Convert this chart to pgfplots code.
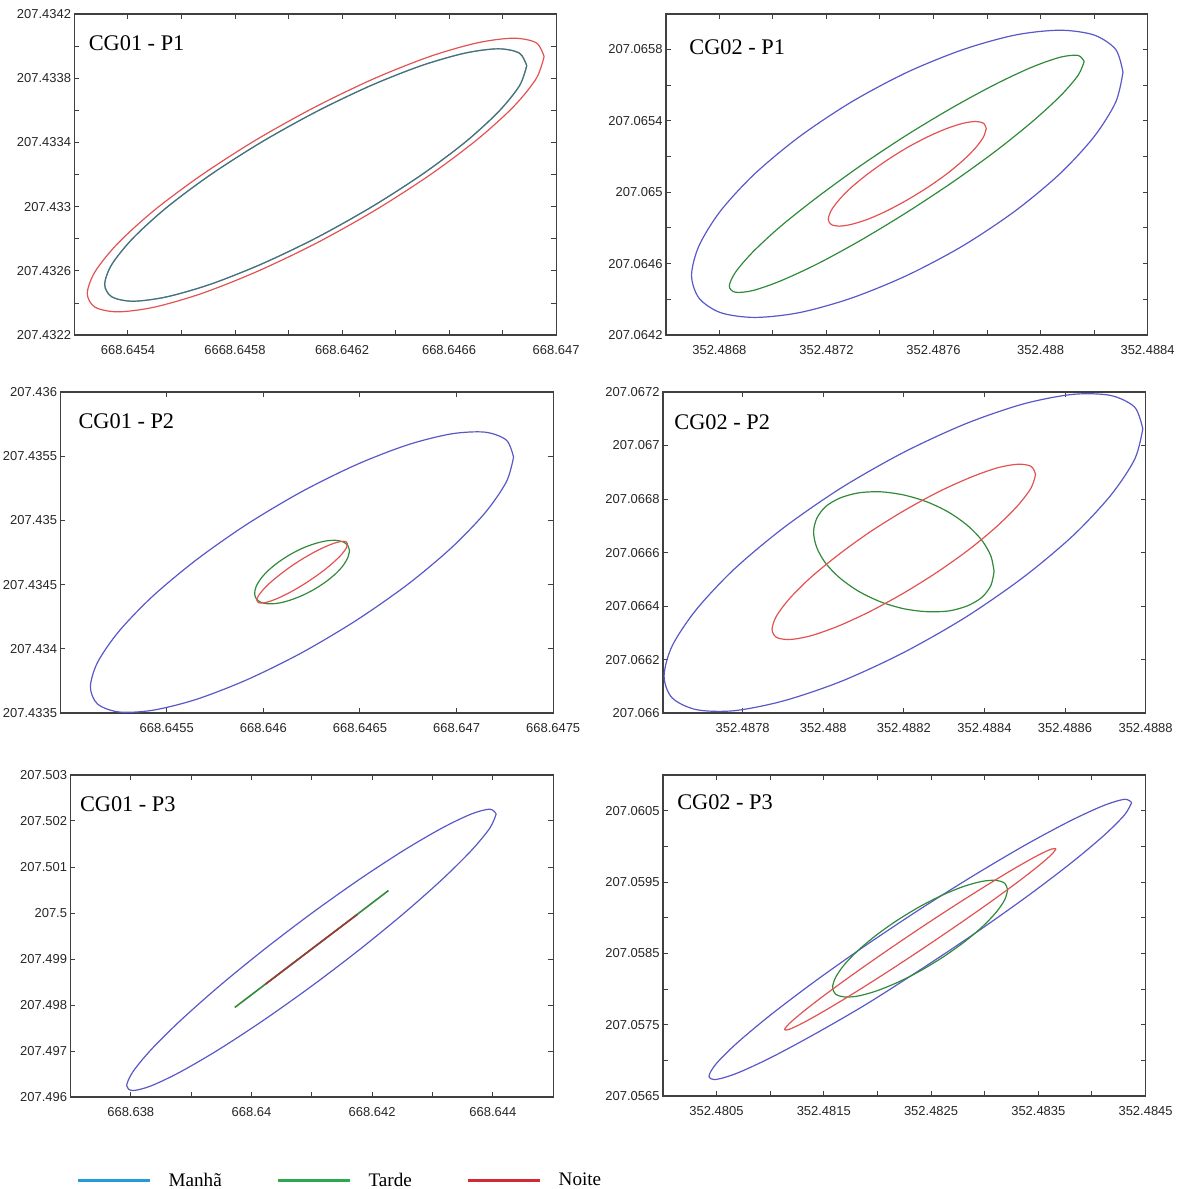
\documentclass[border=0pt]{standalone}
\usepackage{fontspec}
\setmainfont{Liberation Serif}
\newfontfamily\ticksf{Liberation Sans}
\usepackage{pgfplots}
\pgfplotsset{compat=1.18}

\definecolor{manha}{RGB}{88,88,200}
\definecolor{tarde}{RGB}{48,138,58}
\definecolor{noite}{RGB}{226,82,82}
\definecolor{manhaL}{RGB}{35,155,215}
\definecolor{tardeL}{RGB}{45,168,80}
\definecolor{noiteL}{RGB}{212,40,52}

% local axis units: offsets from the base value, in units of 1e-4 (1e-3 for CG01-P3)
\pgfplotsset{
  panel/.style={
    scale only axis, anchor=north west,
    tick pos=both, tick align=inside,
    major tick length=2.5pt, minor tick length=2.5pt,
    axis line style={black!75, line width=0.65pt},
    every tick/.style={black!75, line width=0.5pt},
    ticklabel style={font=\ticksf\fontsize{6.5}{7.5}\selectfont, text=black!85},
    xticklabel style={inner sep=1pt, yshift=-4pt},
    yticklabel style={inner sep=1.5pt},
    scaled ticks=false,
    every axis plot/.append style={line width=0.6pt, smooth, forget plot},
  },
}
\tikzset{ttl/.style={anchor=west, inner sep=0pt, font=\fontsize{11.2}{13}\selectfont}}

\begin{document}
\begin{tikzpicture}
\path (0,0) rectangle (592pt,-594.5pt);

% CG01 - P1
\begin{axis}[panel, at={(36pt,-7pt)}, width=241.5pt, height=161pt,
  xmin=2, xmax=20, ymin=2, ymax=22,
  xtick={4,8,12,16,20}, xticklabels={668.6454,6668.6458,668.6462,668.6466,668.647},
  minor xtick={6,10,14,18},
  ytick={2,6,10,14,18,22}, yticklabels={207.4322,207.4326,207.433,207.4334,207.4338,207.4342},
  minor ytick={4,8,12,16,20}]
\addplot[noite] coordinates {(19.55,19.35) (19.26,20.20) (18.41,20.49) (17.05,20.20) (15.28,19.35) (13.22,17.99) (11.02,16.23) (8.81,14.18) (6.75,11.97) (4.98,9.77) (3.62,7.71) (2.77,5.95) (2.48,4.59) (2.77,3.74) (3.62,3.45) (4.98,3.74) (6.75,4.59) (8.81,5.95) (11.02,7.71) (13.22,9.76) (15.28,11.97) (17.05,14.18) (18.41,16.23) (19.26,17.99) (19.55,19.35)};
\addplot[manha] coordinates {(18.90,18.78) (18.63,19.56) (17.84,19.83) (16.59,19.56) (14.96,18.78) (13.06,17.53) (11.02,15.90) (8.97,14.00) (7.07,11.97) (5.44,9.94) (4.19,8.04) (3.40,6.41) (3.13,5.16) (3.40,4.38) (4.19,4.11) (5.44,4.38) (7.07,5.16) (8.97,6.41) (11.02,8.04) (13.06,9.94) (14.96,11.97) (16.59,14.00) (17.84,15.90) (18.63,17.53) (18.90,18.78)};
\addplot[tarde, opacity=0.6] coordinates {(18.90,18.78) (18.63,19.56) (17.84,19.83) (16.59,19.56) (14.96,18.78) (13.06,17.53) (11.02,15.90) (8.97,14.00) (7.07,11.97) (5.44,9.94) (4.19,8.04) (3.40,6.41) (3.13,5.16) (3.40,4.38) (4.19,4.11) (5.44,4.38) (7.07,5.16) (8.97,6.41) (11.02,8.04) (13.06,9.94) (14.96,11.97) (16.59,14.00) (17.84,15.90) (18.63,17.53) (18.90,18.78)};
\node[ttl] at (rel axis cs:0.029,0.910) {CG01 - P1};
\end{axis}

% CG02 - P1
\begin{axis}[panel, at={(332.5pt,-7pt)}, width=241.5pt, height=161pt,
  xmin=6, xmax=24, ymin=2, ymax=19.98,
  xtick={8,12,16,20,24}, xticklabels={352.4868,352.4872,352.4876,352.488,352.4884},
  minor xtick={10,14,18,22},
  ytick={2,6,10,14,18}, yticklabels={207.0642,207.0646,207.065,207.0654,207.0658},
  minor ytick={4,8,12,16}]
\addplot[manha] coordinates {(23.08,16.72) (22.81,17.99) (22.00,18.80) (20.72,19.07) (19.05,18.80) (17.11,17.99) (15.02,16.72) (12.93,15.05) (10.99,13.11) (9.32,11.03) (8.04,8.95) (7.24,7.01) (6.96,5.35) (7.24,4.07) (8.04,3.26) (9.32,2.99) (10.99,3.26) (12.93,4.07) (15.02,5.35) (17.11,7.01) (19.05,8.95) (20.72,11.03) (22.00,13.11) (22.81,15.05) (23.08,16.72)};
\addplot[tarde] coordinates {(21.63,17.32) (21.40,17.66) (20.74,17.56) (19.69,17.01) (18.32,16.05) (16.72,14.75) (15.00,13.20) (13.28,11.49) (11.69,9.76) (10.31,8.12) (9.26,6.67) (8.60,5.52) (8.37,4.74) (8.60,4.40) (9.26,4.50) (10.31,5.05) (11.69,6.01) (13.28,7.31) (15.00,8.87) (16.72,10.57) (18.32,12.30) (19.69,13.95) (20.74,15.39) (21.40,16.54) (21.63,17.32)};
\addplot[noite] coordinates {(17.97,13.57) (17.87,13.86) (17.58,13.96) (17.11,13.86) (16.50,13.57) (15.78,13.10) (15.02,12.50) (14.26,11.79) (13.55,11.03) (12.93,10.27) (12.47,9.57) (12.17,8.96) (12.07,8.49) (12.17,8.20) (12.47,8.10) (12.93,8.20) (13.55,8.49) (14.26,8.96) (15.02,9.57) (15.78,10.27) (16.50,11.03) (17.11,11.79) (17.58,12.50) (17.87,13.10) (17.97,13.57)};
\node[ttl] at (rel axis cs:0.048,0.898) {CG02 - P1};
\end{axis}

% CG01 - P2
\begin{axis}[panel, at={(29pt,-196.5pt)}, width=247pt, height=161pt,
  xmin=-0.5, xmax=25, ymin=5, ymax=30,
  xtick={5,10,15,20,25}, xticklabels={668.6455,668.646,668.6465,668.647,668.6475},
  ytick={5,10,15,20,25,30}, yticklabels={207.4335,207.434,207.4345,207.435,207.4355,207.436}]
\addplot[manha] coordinates {(22.95,24.93) (22.58,26.25) (21.48,26.87) (19.74,26.74) (17.48,25.89) (14.83,24.35) (12.00,22.25) (9.17,19.72) (6.53,16.93) (4.26,14.08) (2.52,11.36) (1.42,8.95) (1.05,7.03) (1.42,5.71) (2.52,5.09) (4.26,5.22) (6.53,6.07) (9.17,7.61) (12.00,9.71) (14.83,12.24) (17.48,15.03) (19.74,17.88) (21.48,20.60) (22.58,23.01) (22.95,24.93)};
\addplot[tarde] coordinates {(14.46,17.63) (14.37,18.05) (14.13,18.33) (13.74,18.45) (13.23,18.40) (12.64,18.18) (12.00,17.82) (11.36,17.32) (10.77,16.74) (10.26,16.11) (9.87,15.47) (9.63,14.86) (9.55,14.33) (9.63,13.91) (9.87,13.63) (10.26,13.51) (10.77,13.56) (11.36,13.78) (12.00,14.15) (12.64,14.64) (13.23,15.22) (13.74,15.85) (14.13,16.49) (14.37,17.10) (14.46,17.63)};
\addplot[noite] coordinates {(14.36,18.15) (14.28,18.34) (14.05,18.37) (13.67,18.23) (13.19,17.94) (12.62,17.52) (12.01,16.99) (11.40,16.39) (10.84,15.76) (10.35,15.15) (9.98,14.59) (9.74,14.12) (9.66,13.79) (9.74,13.60) (9.98,13.57) (10.35,13.71) (10.84,14.00) (11.40,14.42) (12.01,14.95) (12.62,15.55) (13.19,16.18) (13.67,16.79) (14.05,17.35) (14.28,17.82) (14.36,18.15)};
\node[ttl] at (rel axis cs:0.036,0.910) {CG01 - P2};
\end{axis}

% CG02 - P2
\begin{axis}[panel, at={(331pt,-196.5pt)}, width=242pt, height=161pt,
  xmin=6.02, xmax=18, ymin=0, ymax=12,
  xtick={8,10,12,14,16,18}, xticklabels={352.4878,352.488,352.4882,352.4884,352.4886,352.4888},
  ytick={0,2,4,6,8,10,12}, yticklabels={207.066,207.0662,207.0664,207.0666,207.0668,207.067,207.0672}]
\addplot[manha] coordinates {(17.93,10.62) (17.73,11.43) (17.13,11.87) (16.19,11.91) (14.96,11.55) (13.53,10.81) (11.99,9.74) (10.45,8.42) (9.02,6.93) (7.79,5.38) (6.85,3.87) (6.25,2.51) (6.05,1.38) (6.25,0.57) (6.85,0.13) (7.79,0.09) (9.02,0.46) (10.45,1.19) (11.99,2.26) (13.53,3.58) (14.96,5.07) (16.19,6.62) (17.13,8.13) (17.73,9.49) (17.93,10.62)};
\addplot[tarde] coordinates {(14.24,5.29) (14.16,5.87) (13.94,6.45) (13.58,7.01) (13.12,7.50) (12.58,7.89) (12.00,8.15) (11.42,8.27) (10.88,8.23) (10.42,8.04) (10.06,7.72) (9.84,7.28) (9.76,6.76) (9.84,6.18) (10.06,5.60) (10.42,5.04) (10.88,4.55) (11.42,4.16) (12.00,3.90) (12.58,3.79) (13.12,3.82) (13.58,4.01) (13.94,4.33) (14.16,4.77) (14.24,5.29)};
\addplot[noite] coordinates {(15.27,8.92) (15.16,9.22) (14.83,9.30) (14.31,9.16) (13.64,8.80) (12.85,8.26) (12.00,7.56) (11.15,6.76) (10.37,5.91) (9.69,5.07) (9.17,4.29) (8.84,3.63) (8.73,3.13) (8.84,2.83) (9.17,2.75) (9.69,2.89) (10.37,3.25) (11.15,3.79) (12.00,4.49) (12.85,5.29) (13.64,6.14) (14.31,6.98) (14.83,7.76) (15.16,8.42) (15.27,8.92)};
\node[ttl] at (rel axis cs:0.023,0.907) {CG02 - P2};
\end{axis}

% CG01 - P3 (units of 1e-3) + legend
\begin{axis}[panel, at={(34pt,-388.5pt)}, width=242pt, height=161.5pt,
  xmin=0, xmax=8, ymin=0, ymax=7,
  xtick={1,3,5,7}, xticklabels={668.638,668.64,668.642,668.644},
  minor xtick={2,4,6},
  ytick={0,1,2,3,4,5,6,7}, yticklabels={207.496,207.497,207.498,207.499,207.5,207.501,207.502,207.503},
  legend columns=3,
  legend image code/.code={\draw[#1] (0pt,0pt) -- (36pt,0pt);},
  legend style={draw=none, fill=none, at={(0.012,-0.26)}, anchor=west,
    inner sep=0pt, column sep=0pt, nodes={inner sep=0pt},
    font=\fontsize{9.6}{11}\selectfont,
    /tikz/every odd column/.append style={column sep=8.5pt},
    /tikz/every even column/.append style={column sep=27.5pt}}]
\addlegendimage{manhaL, line width=1.6pt}
\addlegendentry{Manhã}
\addlegendimage{tardeL, line width=1.6pt}
\addlegendentry{Tarde}
\addlegendimage{noiteL, line width=1.6pt}
\addlegendentry{Noite}
\addplot[manha] coordinates {(7.056,6.153) (6.952,6.257) (6.646,6.153) (6.159,5.847) (5.525,5.362) (4.786,4.728) (3.994,3.991) (3.202,3.200) (2.463,2.408) (1.829,1.671) (1.342,1.039) (1.036,0.553) (0.932,0.247) (1.036,0.143) (1.342,0.247) (1.829,0.553) (2.463,1.038) (3.202,1.672) (3.994,2.409) (4.786,3.200) (5.525,3.992) (6.159,4.729) (6.646,5.361) (6.952,5.847) (7.056,6.153)};
\addplot[tarde, line width=0.8pt] coordinates {(2.723,1.948) (4.0,3.22) (5.271,4.489)};
\addplot[noite!70!black, line width=0.8pt] coordinates {(3.232,2.454) (4.0,3.22) (4.755,3.969)};
\node[ttl] at (rel axis cs:0.019,0.910) {CG01 - P3};
\end{axis}

% CG02 - P3
\begin{axis}[panel, at={(331pt,-388.5pt)}, width=242pt, height=161pt,
  xmin=0, xmax=45, ymin=5, ymax=50,
  xtick={5,15,25,35,45}, xticklabels={352.4805,352.4815,352.4825,352.4835,352.4845},
  minor xtick={10,20,30,40},
  ytick={5,15,25,35,45}, yticklabels={207.0565,207.0575,207.0585,207.0595,207.0605},
  minor ytick={10,20,30,40}]
\addplot[manha] coordinates {(43.70,46.14) (43.03,46.59) (41.06,45.70) (37.93,43.53) (33.85,40.24) (29.10,36.03) (24.00,31.22) (18.90,26.11) (14.15,21.06) (10.07,16.41) (6.94,12.48) (4.97,9.54) (4.30,7.79) (4.97,7.34) (6.94,8.23) (10.07,10.40) (14.15,13.69) (18.90,17.82) (24.00,22.71) (29.10,27.82) (33.85,32.87) (37.93,37.52) (41.06,41.45) (43.03,44.39) (43.70,46.14)};
\addplot[tarde] coordinates {(32.14,33.89) (31.86,34.83) (31.05,35.24) (29.75,35.09) (28.06,34.39) (26.09,33.19) (23.98,31.58) (21.87,29.66) (19.90,27.56) (18.21,25.43) (16.91,23.41) (16.10,21.63) (15.82,20.23) (16.10,19.29) (16.91,18.89) (18.21,19.03) (19.90,19.73) (21.87,20.93) (23.98,22.54) (26.09,24.46) (28.06,26.56) (29.75,28.69) (31.05,30.72) (31.86,32.49) (32.14,33.89)};
\addplot[noite] coordinates {(36.65,39.65) (36.22,39.62) (34.96,38.74) (32.95,37.05) (30.33,34.67) (27.27,31.77) (24.00,28.55) (20.73,25.22) (17.68,22.01) (15.06,19.14) (13.05,16.80) (11.78,15.16) (11.35,14.33) (11.78,14.36) (13.05,15.25) (15.06,16.94) (17.68,19.31) (20.73,22.21) (24.00,25.44) (27.27,28.77) (30.33,31.98) (32.95,34.85) (34.96,37.19) (36.22,38.83) (36.65,39.65)};
\node[ttl] at (rel axis cs:0.029,0.916) {CG02 - P3};
\end{axis}
\end{tikzpicture}
\end{document}
